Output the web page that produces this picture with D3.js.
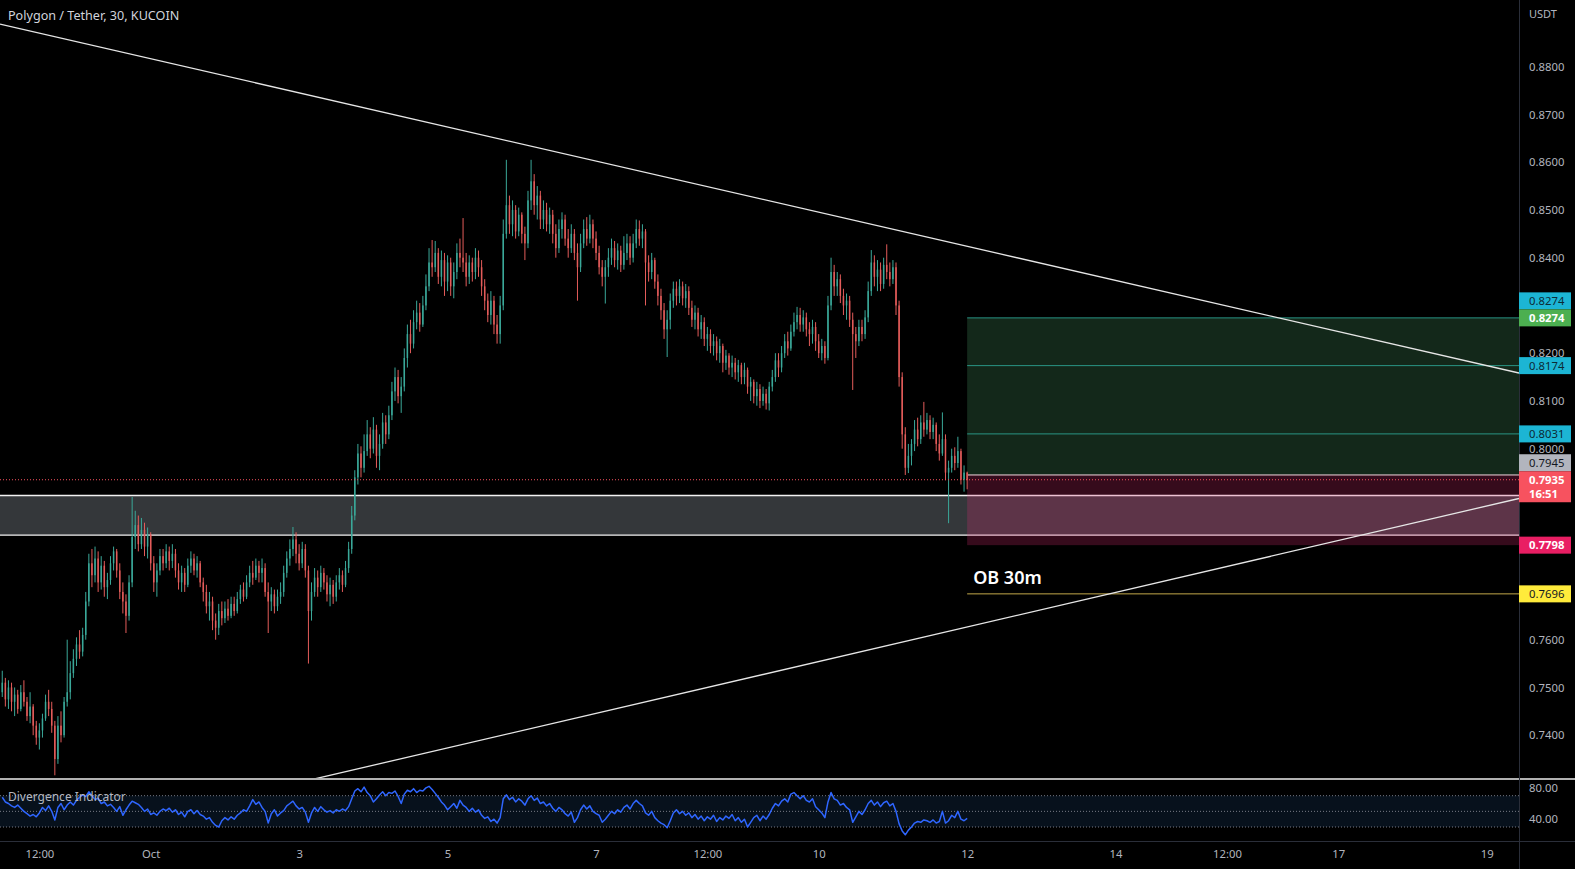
<!DOCTYPE html>
<html><head><meta charset="utf-8">
<script src="https://cdn.jsdelivr.net/npm/d3@7"></script>
<style>
html,body{margin:0;padding:0;background:#000;overflow:hidden}
svg{display:block}
text{font-family:"Noto Sans","Liberation Sans",sans-serif}
</style></head><body>
<svg id="c" width="1575" height="869"></svg>
<script>
// ---------------- DATA ----------------
const title = "Polygon / Tether, 30, KUCOIN";
const indicatorName = "Divergence Indicator";
const currency = "USDT";
const firstCandle = Date.UTC(2022, 8, 29, 0); // hourly candles from Sep 29
const firstOpen = 0.7490;
const closes = [
0.7510,0.7475,0.7500,0.7470,0.7485,0.7455,0.7490,0.7470,0.7440,0.7460,0.7420,0.7395,
0.7410,0.7435,0.7470,0.7455,0.7420,0.7350,0.7420,0.7400,0.7470,0.7490,0.7530,0.7560,
0.7590,0.7575,0.7610,0.7680,0.7760,0.7735,0.7770,0.7720,0.7755,0.7710,0.7725,0.7760,
0.7785,0.7745,0.7700,0.7680,0.7650,0.7720,0.7815,0.7840,0.7800,0.7830,0.7795,0.7820,
0.7760,0.7720,0.7745,0.7775,0.7760,0.7785,0.7765,0.7780,0.7745,0.7720,0.7740,0.7715,
0.7755,0.7770,0.7745,0.7760,0.7720,0.7700,0.7670,0.7680,0.7640,0.7625,0.7660,0.7645,
0.7665,0.7650,0.7675,0.7660,0.7685,0.7705,0.7690,0.7720,0.7740,0.7730,0.7755,0.7740,
0.7750,0.7700,0.7680,0.7695,0.7670,0.7690,0.7700,0.7740,0.7770,0.7790,0.7810,0.7780,
0.7760,0.7790,0.7745,0.7660,0.7700,0.7730,0.7710,0.7740,0.7720,0.7695,0.7715,0.7690,
0.7720,0.7735,0.7715,0.7750,0.7790,0.7860,0.7940,0.7990,0.7960,0.7995,0.8030,0.8000,
0.8040,0.7985,0.8010,0.8055,0.8030,0.8070,0.8120,0.8150,0.8110,0.8130,0.8190,0.8240,
0.8220,0.8265,0.8285,0.8260,0.8300,0.8340,0.8390,0.8380,0.8410,0.8360,0.8395,0.8350,
0.8390,0.8340,0.8370,0.8410,0.8400,0.8390,0.8360,0.8390,0.8370,0.8400,0.8380,0.8340,
0.8310,0.8280,0.8310,0.8260,0.8240,0.8300,0.8450,0.8510,0.8470,0.8500,0.8455,0.8490,
0.8450,0.8430,0.8520,0.8560,0.8510,0.8530,0.8480,0.8500,0.8470,0.8490,0.8450,0.8420,
0.8460,0.8480,0.8440,0.8420,0.8450,0.8410,0.8380,0.8430,0.8460,0.8440,0.8470,0.8440,
0.8410,0.8380,0.8360,0.8380,0.8400,0.8420,0.8395,0.8415,0.8385,0.8410,0.8430,0.8400,
0.8430,0.8460,0.8440,0.8455,0.8390,0.8370,0.8395,0.8350,0.8320,0.8290,0.8250,0.8270,
0.8310,0.8335,0.8320,0.8340,0.8315,0.8330,0.8295,0.8270,0.8285,0.8250,0.8265,0.8230,
0.8240,0.8215,0.8225,0.8200,0.8215,0.8180,0.8195,0.8170,0.8180,0.8160,0.8175,0.8150,
0.8165,0.8130,0.8140,0.8110,0.8125,0.8100,0.8115,0.8095,0.8130,0.8150,0.8185,0.8170,
0.8200,0.8225,0.8210,0.8245,0.8265,0.8280,0.8260,0.8275,0.8250,0.8240,0.8255,0.8225,
0.8200,0.8215,0.8190,0.8300,0.8370,0.8340,0.8355,0.8320,0.8300,0.8310,0.8270,0.8240,
0.8225,0.8255,0.8240,0.8275,0.8330,0.8390,0.8360,0.8375,0.8345,0.8385,0.8370,0.8355,
0.8380,0.8300,0.8150,0.8030,0.7960,0.7985,0.8010,0.8040,0.8020,0.8055,0.8040,0.8060,
0.8035,0.8050,0.8010,0.7990,0.8020,0.7950,0.7960,0.7985,0.7970,0.7995,0.7935,0.7950,
0.7935];
const highs = [
0.7535,0.7520,0.7515,0.7510,0.7500,0.7495,0.7505,0.7515,0.7480,0.7490,0.7465,0.7430,
0.7425,0.7445,0.7485,0.7495,0.7470,0.7430,0.7440,0.7450,0.7480,0.7600,0.7555,0.7580,
0.7605,0.7620,0.7625,0.7700,0.7780,0.7790,0.7795,0.7785,0.7775,0.7765,0.7740,0.7775,
0.7795,0.7790,0.7760,0.7720,0.7695,0.7735,0.7899,0.7870,0.7860,0.7855,0.7845,0.7835,
0.7825,0.7775,0.7760,0.7790,0.7790,0.7800,0.7795,0.7800,0.7790,0.7760,0.7755,0.7750,
0.7770,0.7785,0.7780,0.7775,0.7765,0.7730,0.7715,0.7700,0.7690,0.7655,0.7675,0.7680,
0.7680,0.7685,0.7690,0.7690,0.7700,0.7715,0.7720,0.7735,0.7755,0.7765,0.7770,0.7765,
0.7770,0.7760,0.7720,0.7710,0.7705,0.7705,0.7720,0.7755,0.7785,0.7810,0.7836,0.7825,
0.7800,0.7805,0.7800,0.7755,0.7720,0.7750,0.7745,0.7755,0.7750,0.7735,0.7730,0.7725,
0.7735,0.7750,0.7745,0.7765,0.7805,0.7880,0.7955,0.8010,0.8005,0.8030,0.8060,0.8045,
0.8066,0.8050,0.8030,0.8075,0.8070,0.8090,0.8140,0.8170,0.8165,0.8150,0.8210,0.8260,
0.8270,0.8290,0.8310,0.8305,0.8320,0.8365,0.8420,0.8437,0.8435,0.8420,0.8415,0.8410,
0.8405,0.8400,0.8390,0.8430,0.8440,0.8483,0.8410,0.8405,0.8400,0.8420,0.8415,0.8395,
0.8355,0.8325,0.8330,0.8320,0.8280,0.8320,0.8480,0.8605,0.8530,0.8520,0.8510,0.8505,
0.8495,0.8465,0.8540,0.8605,0.8575,0.8550,0.8540,0.8520,0.8515,0.8505,0.8500,0.8470,
0.8480,0.8495,0.8490,0.8460,0.8470,0.8460,0.8430,0.8450,0.8480,0.8485,0.8490,0.8480,
0.8455,0.8425,0.8395,0.8395,0.8420,0.8440,0.8435,0.8430,0.8425,0.8445,0.8450,0.8445,
0.8450,0.8480,0.8478,0.8470,0.8460,0.8405,0.8410,0.8400,0.8365,0.8335,0.8305,0.8290,
0.8325,0.8350,0.8350,0.8355,0.8350,0.8345,0.8340,0.8310,0.8300,0.8295,0.8280,0.8275,
0.8255,0.8250,0.8240,0.8235,0.8230,0.8220,0.8207,0.8200,0.8195,0.8190,0.8186,0.8180,
0.8180,0.8170,0.8150,0.8145,0.8140,0.8135,0.8130,0.8125,0.8140,0.8165,0.8200,0.8200,
0.8215,0.8240,0.8245,0.8260,0.8285,0.8297,0.8295,0.8290,0.8285,0.8265,0.8270,0.8265,
0.8240,0.8230,0.8225,0.8320,0.8400,0.8385,0.8370,0.8365,0.8335,0.8325,0.8320,0.8285,
0.8255,0.8270,0.8270,0.8290,0.8350,0.8416,0.8405,0.8395,0.8390,0.8400,0.8428,0.8390,
0.8395,0.8390,0.8310,0.8160,0.8045,0.8010,0.8020,0.8060,0.8065,0.8070,0.8098,0.8075,
0.8070,0.8065,0.8055,0.8030,0.8076,0.8030,0.7975,0.8000,0.8003,0.8025,0.8000,0.7965,
0.7952];
const lows = [
0.7480,0.7460,0.7455,0.7450,0.7440,0.7445,0.7450,0.7460,0.7430,0.7425,0.7400,0.7380,
0.7370,0.7395,0.7430,0.7440,0.7405,0.7316,0.7340,0.7385,0.7395,0.7460,0.7475,0.7520,
0.7545,0.7560,0.7565,0.7600,0.7670,0.7710,0.7720,0.7700,0.7705,0.7690,0.7685,0.7715,
0.7745,0.7730,0.7685,0.7655,0.7614,0.7640,0.7710,0.7790,0.7785,0.7790,0.7775,0.7770,
0.7745,0.7700,0.7690,0.7735,0.7745,0.7750,0.7745,0.7750,0.7730,0.7705,0.7700,0.7700,
0.7710,0.7740,0.7735,0.7730,0.7710,0.7680,0.7655,0.7640,0.7620,0.7600,0.7610,0.7630,
0.7635,0.7640,0.7645,0.7650,0.7655,0.7675,0.7680,0.7685,0.7710,0.7715,0.7725,0.7720,
0.7720,0.7690,0.7614,0.7660,0.7655,0.7660,0.7675,0.7690,0.7730,0.7755,0.7775,0.7760,
0.7745,0.7750,0.7730,0.7550,0.7640,0.7690,0.7690,0.7700,0.7705,0.7680,0.7670,0.7675,
0.7680,0.7705,0.7700,0.7710,0.7740,0.7780,0.7850,0.7925,0.7940,0.7950,0.7985,0.7980,
0.7990,0.7960,0.7955,0.8000,0.8010,0.8020,0.8060,0.8100,0.8095,0.8075,0.8120,0.8170,
0.8200,0.8210,0.8250,0.8245,0.8255,0.8290,0.8330,0.8360,0.8370,0.8345,0.8340,0.8320,
0.8330,0.8320,0.8315,0.8355,0.8380,0.8370,0.8340,0.8345,0.8350,0.8355,0.8360,0.8320,
0.8290,0.8265,0.8260,0.8240,0.8220,0.8220,0.8290,0.8440,0.8450,0.8445,0.8440,0.8445,
0.8430,0.8395,0.8420,0.8500,0.8490,0.8480,0.8460,0.8460,0.8455,0.8450,0.8430,0.8400,
0.8410,0.8440,0.8425,0.8400,0.8410,0.8395,0.8310,0.8370,0.8420,0.8425,0.8430,0.8420,
0.8395,0.8365,0.8340,0.8304,0.8360,0.8385,0.8380,0.8375,0.8370,0.8375,0.8395,0.8385,
0.8390,0.8420,0.8425,0.8420,0.8300,0.8350,0.8355,0.8335,0.8300,0.8270,0.8230,0.8192,
0.8250,0.8295,0.8300,0.8305,0.8300,0.8295,0.8280,0.8255,0.8250,0.8235,0.8230,0.8215,
0.8205,0.8200,0.8195,0.8185,0.8180,0.8160,0.8165,0.8155,0.8150,0.8145,0.8140,0.8135,
0.8135,0.8115,0.8100,0.8095,0.8090,0.8085,0.8090,0.8082,0.8080,0.8120,0.8140,0.8150,
0.8160,0.8190,0.8195,0.8205,0.8235,0.8250,0.8245,0.8245,0.8235,0.8215,0.8220,0.8205,
0.8190,0.8185,0.8178,0.8185,0.8290,0.8320,0.8320,0.8305,0.8280,0.8270,0.8255,0.8123,
0.8190,0.8215,0.8225,0.8230,0.8265,0.8320,0.8340,0.8330,0.8330,0.8335,0.8355,0.8340,
0.8345,0.8280,0.8130,0.8000,0.7945,0.7949,0.7965,0.7995,0.8005,0.8010,0.8025,0.8030,
0.8020,0.8020,0.7995,0.7975,0.7985,0.7934,0.7844,0.7950,0.7955,0.7960,0.7925,0.7910,
0.7915];
const indicator = [
68,62,60,57,55,58,54,50,47,44,46,43,48,55,51,57,50,39,55,60,52,58,62,58,
64,68,71,69,75,70,65,67,60,62,57,59,55,50,56,45,52,58,63,61,59,55,50,53,
46,48,45,50,53,51,54,49,52,46,49,43,50,52,47,51,46,44,40,42,36,32,30,38,
42,39,43,40,45,48,52,50,57,65,59,62,55,50,35,47,52,44,48,51,57,60,63,57,
53,55,49,36,48,55,50,56,52,49,51,48,52,50,53,51,56,66,76,79,75,81,74,70,
62,66,71,75,70,74,73,76,69,60,72,77,75,79,74,77,76,80,82,78,73,68,62,58,
52,56,60,54,64,58,55,50,54,49,52,45,41,43,37,40,35,42,66,71,65,68,62,66,
63,58,66,70,64,67,60,62,57,60,54,50,55,52,47,44,49,36,42,52,58,53,57,50,
47,45,36,40,45,50,47,52,49,55,58,53,60,64,60,57,48,45,50,42,38,35,33,29,
38,48,52,47,50,45,48,42,46,40,44,38,43,40,45,37,42,39,44,41,46,38,42,36,
40,30,36,42,45,38,44,40,46,54,60,57,63,66,62,72,74,70,66,70,64,62,66,56,
52,48,42,62,74,66,64,58,60,55,52,36,43,50,46,52,60,64,58,62,56,61,63,57,
60,50,34,25,20,26,30,35,37,36,39,38,36,39,35,37,50,35,38,45,42,50,40,38,
41];
const priceTicks = [0.88,0.87,0.86,0.85,0.84,0.82,0.81,0.80,0.76,0.75,0.74];
const timeTicks = [Date.UTC(2022,8,29,12),Date.UTC(2022,9,1),Date.UTC(2022,9,3),Date.UTC(2022,9,5),
  Date.UTC(2022,9,7),Date.UTC(2022,9,8,12),Date.UTC(2022,9,10),Date.UTC(2022,9,12),
  Date.UTC(2022,9,14),Date.UTC(2022,9,15,12),Date.UTC(2022,9,17),Date.UTC(2022,9,19)];
const timeTickLabels = ["12:00","Oct","3","5","7","12:00","10","12","14","12:00","17","19"];
const indicatorTicks = [80, 40];
const indicatorLevels = [70, 50, 30];
const target = 0.8274, entry = 0.7945, stop = 0.7798;
const levelLines = [0.8274, 0.8174, 0.8031];
const obLevel = 0.7696, obText = "OB 30m";
const zoneTop = 0.7902, zoneBottom = 0.7819;
const lastPrice = 0.7935, countdown = "16:51";
const positionStart = Date.UTC(2022, 9, 12, 0);
const upperTrend = [[Date.UTC(2022,8,29), 0.8888], [Date.UTC(2022,9,19), 0.8174]];
const lowerTrend = [[Date.UTC(2022,9,3), 0.7301], [Date.UTC(2022,9,19), 0.7880]];

// ---------------- CHART ----------------
const W = 1575, H = 869, AX = 1519, MAIN_B = 778, IND_T = 779, IND_B = 841;
const svg = d3.select('#c');
const x = d3.scaleUtc().domain([new Date(Date.UTC(2022,9,1)), new Date(Date.UTC(2022,9,19))]).range([150.7, 1486.7]);
const y = d3.scaleLinear().domain([0.74, 0.88]).range([735.2, 66.7]);
const yi = d3.scaleLinear().domain([30, 70]).range([827, 795.7]);
const fmt = d3.format(".4f");

svg.append('rect').attr('width', W).attr('height', H).attr('fill', '#000');
const defs = svg.append('defs');
defs.append('clipPath').attr('id', 'cm').append('rect').attr('x', 0).attr('y', 0).attr('width', AX).attr('height', MAIN_B);
defs.append('clipPath').attr('id', 'ci').append('rect').attr('x', 0).attr('y', IND_T).attr('width', AX).attr('height', IND_B - IND_T);

const main = svg.append('g').attr('clip-path', 'url(#cm)');
const px0 = x(new Date(positionStart));

// long position: profit zone
main.append('rect').attr('x', px0).attr('y', y(target)).attr('width', AX - px0)
  .attr('height', y(entry) - y(target)).attr('fill', '#13281a');
// grey support band
main.append('rect').attr('x', 0).attr('y', y(zoneTop)).attr('width', AX)
  .attr('height', y(zoneBottom) - y(zoneTop)).attr('fill', '#34373a');
main.selectAll('line.zb').data([zoneTop, zoneBottom]).join('line').attr('class', 'zb')
  .attr('x1', 0).attr('x2', AX).attr('y1', d => y(d)).attr('y2', d => y(d))
  .attr('stroke', '#f2f2f2').attr('stroke-width', 1.3);
// stop zone
main.append('rect').attr('x', px0).attr('y', y(entry)).attr('width', AX - px0)
  .attr('height', y(stop) - y(entry)).attr('fill', 'rgb(225,46,117)').attr('fill-opacity', 0.24);
// teal levels
main.selectAll('line.lv').data(levelLines).join('line').attr('class', 'lv')
  .attr('x1', px0).attr('x2', AX).attr('y1', d => y(d)).attr('y2', d => y(d))
  .attr('stroke', '#2ea898').attr('stroke-opacity', 0.85).attr('stroke-width', 1);
// entry line
main.append('line').attr('x1', px0).attr('x2', AX).attr('y1', y(entry)).attr('y2', y(entry))
  .attr('stroke', '#f3d7df').attr('stroke-width', 1);
// OB level
main.append('line').attr('x1', px0).attr('x2', AX).attr('y1', y(obLevel)).attr('y2', y(obLevel))
  .attr('stroke', '#c2a84a').attr('stroke-width', 1);

// candles
const candles = closes.map((c, i) => ({
  t: new Date(firstCandle + i * 3600e3), o: i ? closes[i - 1] : firstOpen, h: highs[i], l: lows[i], c
}));
const upC = '#3aa899', dnC = '#e45c5a';
const cg = main.append('g');
cg.selectAll('line.w').data(candles).join('line').attr('class', 'w')
  .attr('x1', d => x(d.t)).attr('x2', d => x(d.t)).attr('y1', d => y(d.h)).attr('y2', d => y(d.l))
  .attr('stroke', d => d.c >= d.o ? upC : dnC).attr('stroke-width', 1);
cg.selectAll('rect.b').data(candles).join('rect').attr('class', 'b')
  .attr('x', d => x(d.t) - 0.75).attr('width', 1.5)
  .attr('y', d => y(Math.max(d.o, d.c)))
  .attr('height', d => Math.max(1, Math.abs(y(d.o) - y(d.c))))
  .attr('fill', d => d.c >= d.o ? upC : dnC);

// trend lines
function extLine(a, b) {
  const p1 = [x(new Date(a[0])), y(a[1])], p2 = [x(new Date(b[0])), y(b[1])];
  const m = (p2[1] - p1[1]) / (p2[0] - p1[0]);
  return [[0, p1[1] - m * p1[0]], [AX, p1[1] + m * (AX - p1[0])]];
}
[upperTrend, lowerTrend].forEach(tl => {
  const s = extLine(tl[0], tl[1]);
  main.append('line').attr('x1', s[0][0]).attr('y1', s[0][1]).attr('x2', s[1][0]).attr('y2', s[1][1])
    .attr('stroke', '#e6e6e6').attr('stroke-width', 1.3);
});
// last price dotted line
main.append('line').attr('x1', 0).attr('x2', AX).attr('y1', y(lastPrice)).attr('y2', y(lastPrice))
  .attr('stroke', '#f7525f').attr('stroke-width', 1).attr('stroke-dasharray', '1,2');
// OB label
main.append('text').attr('x', x(new Date(positionStart)) + 6).attr('y', y(obLevel) - 10)
  .attr('fill', '#ffffff').attr('font-size', 18).attr('font-weight', 600).text(obText);

// indicator pane
const ind = svg.append('g').attr('clip-path', 'url(#ci)');
ind.append('rect').attr('x', 0).attr('width', AX).attr('y', yi(70)).attr('height', yi(30) - yi(70)).attr('fill', '#07111c');
ind.selectAll('line.il').data(indicatorLevels).join('line').attr('class', 'il')
  .attr('x1', 0).attr('x2', AX).attr('y1', d => yi(d)).attr('y2', d => yi(d))
  .attr('stroke', '#787b86').attr('stroke-width', 1).attr('stroke-dasharray', '1,2');
ind.append('path').datum(indicator)
  .attr('d', d3.line().x((d, i) => x(new Date(firstCandle + i * 3600e3))).y(d => yi(d)))
  .attr('fill', 'none').attr('stroke', '#2f66ff').attr('stroke-width', 1.5).attr('stroke-linejoin', 'round');
svg.append('text').attr('x', 8).attr('y', 796.5).attr('dy', '0.35em').attr('font-size', 12)
  .attr('fill', '#b2b5be').text(indicatorName);

// separators
svg.append('line').attr('x1', 0).attr('x2', W).attr('y1', 779).attr('y2', 779).attr('stroke', '#ececec').attr('stroke-width', 1.3);
svg.append('line').attr('x1', 0).attr('x2', W).attr('y1', IND_B + 0.5).attr('y2', IND_B + 0.5).attr('stroke', '#2a2e39');
svg.append('line').attr('x1', AX + 0.5).attr('x2', AX + 0.5).attr('y1', 0).attr('y2', H).attr('stroke', '#2a2e39');

// axes
const ya = svg.append('g').attr('transform', `translate(${AX},0)`)
  .call(d3.axisRight(y).tickValues(priceTicks).tickFormat(fmt).tickSize(0).tickPadding(10));
const yia = svg.append('g').attr('transform', `translate(${AX},0)`)
  .call(d3.axisRight(yi).tickValues(indicatorTicks)
    .tickFormat(d3.format(".2f")).tickSize(0).tickPadding(10));
const xa = svg.append('g').attr('transform', `translate(0,${IND_B})`)
  .call(d3.axisBottom(x).tickValues(timeTicks.map(t => new Date(t))).tickFormat((d, i) => timeTickLabels[i]).tickSize(0).tickPadding(9));
[ya, yia, xa].forEach(g => {
  g.select('.domain').remove();
  g.selectAll('text').attr('fill', '#b2b5be').attr('font-size', 11.3)
    .attr('font-family', '"Noto Sans","Liberation Sans",sans-serif');
});

// axis tags
function tag(yc, h, bg, fg, bold, lines) {
  svg.append('rect').attr('x', AX).attr('y', yc - 8.5).attr('width', 52).attr('height', h).attr('fill', bg);
  lines.forEach((t, k) => svg.append('text').attr('x', AX + 10).attr('y', yc + k * 14.5).attr('dy', '0.35em')
    .attr('font-size', 11.3).attr('font-weight', bold ? 700 : 400).attr('fill', fg).text(t));
}
tag(y(target) - 17, 17, '#1cb5d4', '#0d2a35', false, [fmt(target)]);
tag(y(target), 17, '#4caf50', '#ffffff', true, [fmt(target)]);
tag(y(levelLines[1]), 17, '#1cb5d4', '#0d2a35', false, [fmt(levelLines[1])]);
tag(y(levelLines[2]), 17, '#1cb5d4', '#0d2a35', false, [fmt(levelLines[2])]);
tag(y(lastPrice) - 17, 17, '#b2b5be', '#131722', false, [fmt(entry)]);
tag(y(lastPrice), 31, '#f7525f', '#ffffff', true, [fmt(lastPrice), countdown]);
tag(y(stop), 17, '#e91e63', '#ffffff', true, [fmt(stop)]);
tag(y(obLevel), 17, '#ffeb3b', '#131722', false, [fmt(obLevel)]);

// titles
svg.append('text').attr('x', 8).attr('y', 16).attr('dy', '0.35em').attr('font-size', 12.6)
  .attr('fill', '#d1d4dc').text(title);
svg.append('text').attr('x', AX + 10).attr('y', 14).attr('dy', '0.35em').attr('font-size', 11)
  .attr('fill', '#b2b5be').text(currency);
</script>
</body></html>
